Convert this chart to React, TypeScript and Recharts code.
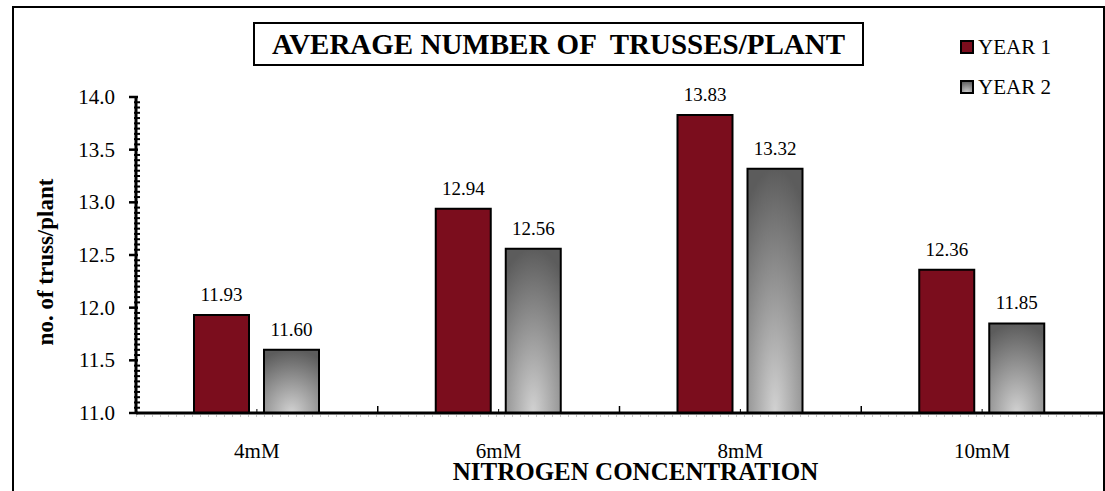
import React from "react";
import { BarChart, Bar, XAxis, YAxis, LabelList, Legend, ReferenceLine } from "recharts";

const CATEGORIES = ["4mM", "6mM", "8mM", "10mM"];
const YEAR_1 = [11.93, 12.94, 13.83, 12.36];
const YEAR_2 = [11.6, 12.56, 13.32, 11.85];
const Y_TICKS = [11.0, 11.5, 12.0, 12.5, 13.0, 13.5, 14.0];
const SERIES_NAMES = ["YEAR 1", "YEAR 2"];

const FONT = '"Liberation Serif", "Times New Roman", serif';
const RED = "#7B0D1D";

const data = CATEGORIES.map((name, i) => ({ name, year1: YEAR_1[i], year2: YEAR_2[i] }));

// minor ticks every 0.05 between the labelled ones
const allTicks: number[] = [];
Y_TICKS.forEach((t, i) => {
  allTicks.push(t);
  if (i < Y_TICKS.length - 1) {
    for (let k = 1; k < 10; k++) allTicks.push(Math.round((t + k * 0.05) * 100) / 100);
  }
});

const isMajor = (v: number) => Y_TICKS.some((t) => Math.abs(t - v) < 1e-6);

const YTick = (props: any) => {
  const { x, y, payload } = props;
  const v = payload.value;
  if (isMajor(v)) {
    return (
      <g>
        <line x1={x - 7} y1={y} x2={x + 2} y2={y} stroke="#000" strokeWidth={2.5} />
        <text x={x - 21} y={y} textAnchor="end" dominantBaseline="central" fontFamily={FONT} fontSize={21} fill="#000">
          {v.toFixed(1)}
        </text>
      </g>
    );
  }
  return <line x1={x - 2} y1={y} x2={x + 4} y2={y} stroke="#000" strokeWidth={2} />;
};

const XTick = (props: any) => {
  const { x, y, payload, index } = props;
  const half = payload && typeof payload.offset === "number" && payload.offset > 0 ? payload.offset : 121;
  return (
    <g>
      <line x1={x} y1={y} x2={x} y2={y - 4} stroke="#000" strokeWidth={1} />
      {index < CATEGORIES.length - 1 && (
        <line x1={x + half} y1={y} x2={x + half} y2={y - 7} stroke="#000" strokeWidth={1.5} />
      )}
      <text x={x} y={y + 45} textAnchor="middle" fontFamily={FONT} fontSize={21} fill="#000">
        {payload.value}
      </text>
    </g>
  );
};

const LegendBox = () => (
  <div style={{ fontFamily: FONT, fontSize: 21, color: "#000" }}>
    {SERIES_NAMES.map((n, i) => (
      <div key={n} style={{ display: "flex", alignItems: "center", height: 40 }}>
        <svg width={14} height={14} style={{ marginRight: 4 }}>
          <rect x={1} y={1} width={12} height={12} fill={i === 0 ? RED : "url(#grayFill)"} stroke="#000" strokeWidth={2} />
        </svg>
        <span>{n}</span>
      </div>
    ))}
  </div>
);

export default function App() {
  return (
    <div style={{ position: "absolute", left: 0, top: 0, width: 1105, height: 491, overflow: "hidden", background: "#fff" }}>
      <svg width={0} height={0} style={{ position: "absolute" }}>
        <defs>
          <radialGradient id="grayFill" cx="0.5" cy="1" r="1">
            <stop offset="0%" stopColor="#d2d2d2" />
            <stop offset="100%" stopColor="#5c5c5c" />
          </radialGradient>
        </defs>
      </svg>
      <div
        style={{
          position: "absolute",
          left: 12,
          top: 6,
          width: 1089,
          height: 520,
          border: "2px solid #000",
        }}
      />
      <div
        style={{
          position: "absolute",
          left: 253,
          top: 22,
          width: 607,
          height: 40,
          border: "2px solid #000",
          fontFamily: FONT,
          fontWeight: "bold",
          fontSize: 29,
          lineHeight: "40px",
          textAlign: "center",
          whiteSpace: "pre",
          background: "#fff",
        }}
      >
        AVERAGE NUMBER OF  TRUSSES/PLANT
      </div>
      <div style={{ position: "absolute", left: 0, top: 0 }}>
        <BarChart width={1105} height={491} data={data} margin={{ top: 97, right: 2, left: 0, bottom: 18 }} barSize={55} barGap={15}>
          <XAxis
            dataKey="name"
            height={60}
            axisLine={{ stroke: "#000", strokeWidth: 3 }}
            tickLine={false}
            tickSize={0}
            tickMargin={0}
            tick={<XTick />}
            interval={0}
            label={{
              content: (p: any) => {
                const vb = p.viewBox || { x: 136, y: 413, width: 967 };
                return (
                  <text x={vb.x + vb.width / 2 + 16} y={vb.y + 67} textAnchor="middle" fontFamily={FONT} fontWeight="bold" fontSize={25} fill="#000">
                    NITROGEN CONCENTRATION
                  </text>
                );
              },
            }}
          />
          <YAxis
            width={136}
            domain={[11, 14]}
            ticks={allTicks}
            interval={0}
            axisLine={{ stroke: "#000", strokeWidth: 3 }}
            tickLine={false}
            tickSize={0}
            tickMargin={0}
            tick={<YTick />}
            label={{
              content: () => (
                <text
                  x={45}
                  y={262}
                  transform="rotate(-90 45 262)"
                  textAnchor="middle"
                  dominantBaseline="central"
                  fontFamily={FONT}
                  fontWeight="bold"
                  fontSize={23}
                  fill="#000"
                >
                  no. of truss/plant
                </text>
              ),
            }}
          />
          <ReferenceLine
            y={11}
            stroke="#999"
            shape={(p: any) =>
              p && typeof p.x1 === "number" ? (
                <line x1={p.x1} y1={p.y1 + 3} x2={p.x2} y2={p.y2 + 3} stroke="#8a8a8a" strokeWidth={1} strokeDasharray="1 7" />
              ) : (
                <g />
              )
            }
          />
          <Legend
            layout="vertical"
            align="center"
            verticalAlign="middle"
            content={<LegendBox />}
            wrapperStyle={{ left: 960, top: 27, width: 140 }}
          />
          <Bar dataKey="year1" name={SERIES_NAMES[0]} fill={RED} stroke="#000" strokeWidth={2} isAnimationActive={false}>
            <LabelList dataKey="year1" position="top" offset={14} fill="#000" fontFamily={FONT} fontSize={19} formatter={(v: any) => Number(v).toFixed(2)} />
          </Bar>
          <Bar dataKey="year2" name={SERIES_NAMES[1]} fill="url(#grayFill)" stroke="#000" strokeWidth={2} isAnimationActive={false}>
            <LabelList dataKey="year2" position="top" offset={14} fill="#000" fontFamily={FONT} fontSize={19} formatter={(v: any) => Number(v).toFixed(2)} />
          </Bar>
        </BarChart>
      </div>
    </div>
  );
}
